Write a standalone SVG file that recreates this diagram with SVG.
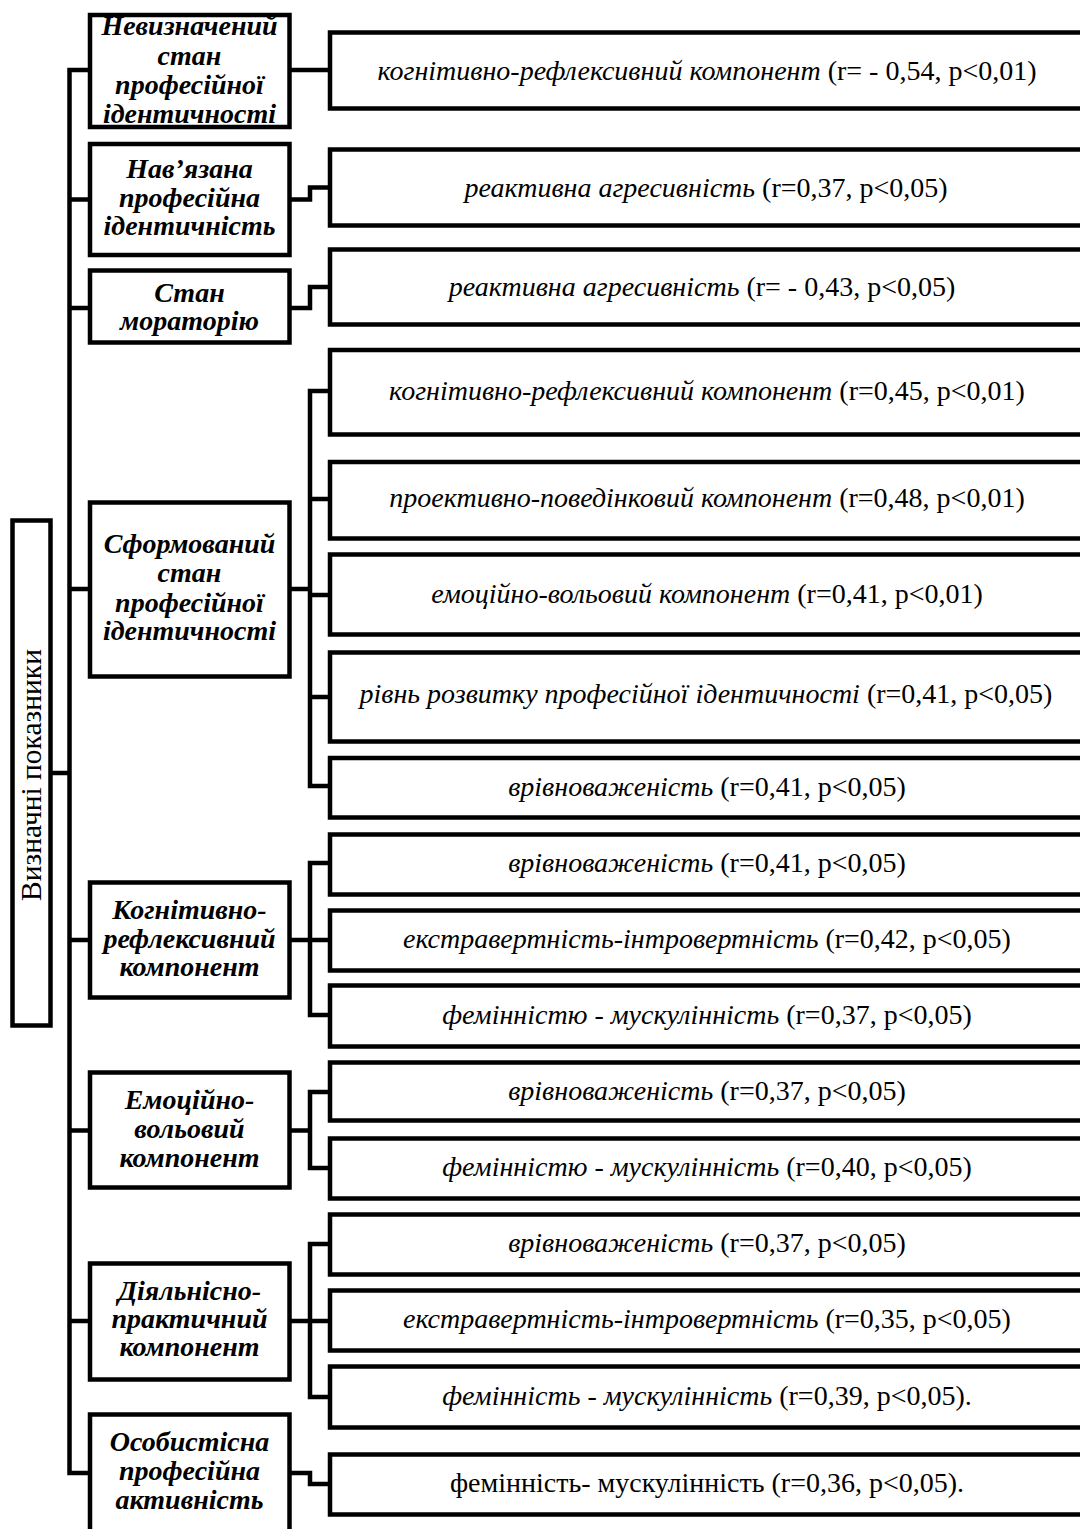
<svg xmlns="http://www.w3.org/2000/svg" width="1080" height="1529" viewBox="0 0 1080 1529">
<style>
.box{fill:#fff;stroke:#000;stroke-width:4.5}
.con{fill:none;stroke:#000;stroke-width:4.5;stroke-linejoin:miter}
.lt{font-family:"Liberation Serif","Times New Roman",serif;font-size:28px;font-weight:bold;font-style:italic;text-anchor:middle;fill:#000}
.rt{font-family:"Liberation Serif","Times New Roman",serif;font-size:28px;text-anchor:middle;fill:#000}
.it{font-style:italic}
.vt{font-family:"Liberation Serif","Times New Roman",serif;font-size:29.5px;text-anchor:middle;fill:#000}
</style>
<rect width="1080" height="1529" fill="#fff"/>
<g id="connectors">
<path class="con" d="M90 70 H69.5 V1473 H90"/>
<path class="con" d="M69.5 199.5 H90 M69.5 308 H90 M69.5 589 H90 M69.5 940 H90 M69.5 1130.5 H90 M69.5 1321 H90"/>
<path class="con" d="M50.5 773 H69.5"/>
<path class="con" d="M289.5 70 H330"/>
<path class="con" d="M289.5 199.5 H310 V187.5 H330"/>
<path class="con" d="M289.5 308 H310 V287 H330"/>
<path class="con" d="M289.5 589 H310 M330 391 H310 V786 H330 M310 499 H330 M310 595 H330 M310 697 H330"/>
<path class="con" d="M289.5 940 H330 M330 863 H310 V1015 H330"/>
<path class="con" d="M289.5 1130.5 H310 M330 1092 H310 V1168 H330"/>
<path class="con" d="M289.5 1321 H330 M330 1244 H310 V1397 H330"/>
<path class="con" d="M289.5 1473 H310 V1484 H330"/>
</g>
<g id="root">
<rect class="box" x="12.5" y="520.5" width="38" height="505"/>
<text class="vt" transform="translate(41 775) rotate(-90)" x="0" y="0">Визначні показники</text>
</g>
<g id="n1">
<rect class="box" x="90" y="15" width="199.5" height="112"/>
<text class="lt" x="189.5" y="35">Невизначений</text>
<text class="lt" x="189.5" y="65">стан</text>
<text class="lt" x="189.5" y="94">професійної</text>
<text class="lt" x="189.5" y="123">ідентичності</text>
</g>
<g id="n2">
<rect class="box" x="90" y="144" width="199.5" height="111"/>
<text class="lt" x="189.5" y="178">Нав’язана</text>
<text class="lt" x="189.5" y="207">професійна</text>
<text class="lt" x="189.5" y="235">ідентичність</text>
</g>
<g id="n3">
<rect class="box" x="90" y="270.5" width="199.5" height="72"/>
<text class="lt" x="189.5" y="302">Стан</text>
<text class="lt" x="189.5" y="330">мораторію</text>
</g>
<g id="n4">
<rect class="box" x="90" y="502.5" width="199.5" height="174"/>
<text class="lt" x="189.5" y="553">Сформований</text>
<text class="lt" x="189.5" y="582">стан</text>
<text class="lt" x="189.5" y="612">професійної</text>
<text class="lt" x="189.5" y="640">ідентичності</text>
</g>
<g id="n5">
<rect class="box" x="90" y="882.5" width="199.5" height="115"/>
<text class="lt" x="189.5" y="919">Когнітивно-</text>
<text class="lt" x="189.5" y="948">рефлексивний</text>
<text class="lt" x="189.5" y="976">компонент</text>
</g>
<g id="n6">
<rect class="box" x="90" y="1072.5" width="199.5" height="115"/>
<text class="lt" x="189.5" y="1109">Емоційно-</text>
<text class="lt" x="189.5" y="1138">вольовий</text>
<text class="lt" x="189.5" y="1167">компонент</text>
</g>
<g id="n7">
<rect class="box" x="90" y="1263.5" width="199.5" height="116"/>
<text class="lt" x="189.5" y="1300">Діяльнісно-</text>
<text class="lt" x="189.5" y="1328">практичний</text>
<text class="lt" x="189.5" y="1356">компонент</text>
</g>
<g id="n8">
<rect class="box" x="90" y="1414.5" width="199.5" height="130"/>
<text class="lt" x="189.5" y="1451">Особистісна</text>
<text class="lt" x="189.5" y="1480">професійна</text>
<text class="lt" x="189.5" y="1509">активність</text>
</g>
<g id="r1"><rect class="box" x="330" y="32.5" width="770" height="76"/>
<text class="rt" x="707" y="80"><tspan class="it">когнітивно-рефлексивний компонент</tspan> (r= - 0,54, p&lt;0,01)</text></g>
<g id="r2"><rect class="box" x="330" y="149.5" width="770" height="76"/>
<text class="rt" x="706" y="197"><tspan class="it">реактивна агресивність</tspan> (r=0,37, p&lt;0,05)</text></g>
<g id="r3"><rect class="box" x="330" y="249.5" width="770" height="75"/>
<text class="rt" x="702" y="296"><tspan class="it">реактивна агресивність</tspan> (r= - 0,43, p&lt;0,05)</text></g>
<g id="r4"><rect class="box" x="330" y="350" width="770" height="84.5"/>
<text class="rt" x="707" y="400"><tspan class="it">когнітивно-рефлексивний компонент</tspan> (r=0,45, p&lt;0,01)</text></g>
<g id="r5"><rect class="box" x="330" y="462" width="770" height="76.5"/>
<text class="rt" x="707" y="507"><tspan class="it">проективно-поведінковий компонент</tspan> (r=0,48, p&lt;0,01)</text></g>
<g id="r6"><rect class="box" x="330" y="554.5" width="770" height="80"/>
<text class="rt" x="707" y="603"><tspan class="it">емоційно-вольовий компонент</tspan> (r=0,41, p&lt;0,01)</text></g>
<g id="r7"><rect class="box" x="330" y="652.5" width="770" height="89"/>
<text class="rt" x="706" y="703"><tspan class="it">рівнь розвитку професійної ідентичності</tspan> (r=0,41, p&lt;0,05)</text></g>
<g id="r8"><rect class="box" x="330" y="758" width="770" height="59.5"/>
<text class="rt" x="707" y="796"><tspan class="it">врівноваженість</tspan> (r=0,41, p&lt;0,05)</text></g>
<g id="r9"><rect class="box" x="330" y="834.5" width="770" height="60"/>
<text class="rt" x="707" y="872"><tspan class="it">врівноваженість</tspan> (r=0,41, p&lt;0,05)</text></g>
<g id="r10"><rect class="box" x="330" y="910.5" width="770" height="60"/>
<text class="rt" x="707" y="948"><tspan class="it">екстравертність-інтровертність</tspan> (r=0,42, p&lt;0,05)</text></g>
<g id="r11"><rect class="box" x="330" y="985.5" width="770" height="61"/>
<text class="rt" x="707" y="1024"><tspan class="it">фемінністю - мускулінність</tspan> (r=0,37, p&lt;0,05)</text></g>
<g id="r12"><rect class="box" x="330" y="1062.5" width="770" height="58"/>
<text class="rt" x="707" y="1100"><tspan class="it">врівноваженість</tspan> (r=0,37, p&lt;0,05)</text></g>
<g id="r13"><rect class="box" x="330" y="1138.5" width="770" height="60"/>
<text class="rt" x="707" y="1176"><tspan class="it">фемінністю - мускулінність</tspan> (r=0,40, p&lt;0,05)</text></g>
<g id="r14"><rect class="box" x="330" y="1214.5" width="770" height="60"/>
<text class="rt" x="707" y="1252"><tspan class="it">врівноваженість</tspan> (r=0,37, p&lt;0,05)</text></g>
<g id="r15"><rect class="box" x="330" y="1290.5" width="770" height="60"/>
<text class="rt" x="707" y="1328"><tspan class="it">екстравертність-інтровертність</tspan> (r=0,35, p&lt;0,05)</text></g>
<g id="r16"><rect class="box" x="330" y="1366.5" width="770" height="61"/>
<text class="rt" x="707" y="1405"><tspan class="it">фемінність - мускулінність</tspan> (r=0,39, p&lt;0,05).</text></g>
<g id="r17"><rect class="box" x="330" y="1454.5" width="770" height="60"/>
<text class="rt" x="707" y="1492">фемінність- мускулінність (r=0,36, p&lt;0,05).</text></g>
</svg>
